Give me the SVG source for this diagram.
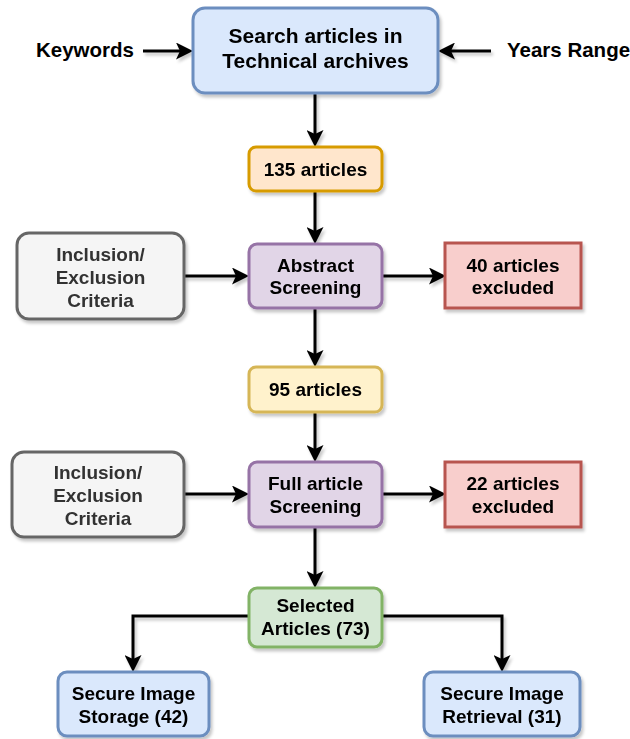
<svg xmlns="http://www.w3.org/2000/svg" width="630" height="739" viewBox="0 0 630 739">
<style>
text{font-family:"Liberation Sans",Arial,Helvetica,sans-serif;font-weight:bold;fill:#000;}
.t{font-size:19px;text-anchor:middle;}
.g{fill:#333333;}
.box{stroke-width:3;}
.blue{fill:#dae8fc;stroke:#6c8ebf;}
.orange{fill:#ffe6cc;stroke:#d79b00;}
.purple{fill:#e1d5e7;stroke:#9673a6;}
.gray{fill:#f5f5f5;stroke:#666666;}
.red{fill:#f8cecc;stroke:#b85450;}
.yellow{fill:#fff2cc;stroke:#d6b656;}
.green{fill:#d5e8d4;stroke:#82b366;}
.c{fill:none;stroke:#000;stroke-width:3;marker-end:url(#arr);}
</style>
<defs>
<marker id="arr" viewBox="0 0 17 17" refX="9" refY="8.5" markerWidth="17" markerHeight="17" markerUnits="userSpaceOnUse" orient="auto">
<path d="M0,0 L17,8.5 L0,17 L4,8.5 Z" fill="#000"/>
</marker>
<filter id="sh" x="-10%" y="-10%" width="130%" height="140%">
<feDropShadow dx="2" dy="3" stdDeviation="1.5" flood-color="#000" flood-opacity="0.22"/>
</filter>
</defs>

<g id="connectors" filter="url(#sh)">
<path class="c" d="M143,51 H185"/>
<path class="c" d="M491,51 H446"/>
<path class="c" d="M315,93 V139"/>
<path class="c" d="M315,191 V236"/>
<path class="c" d="M184,276 H241"/>
<path class="c" d="M382,276 H438"/>
<path class="c" d="M315,308 V359"/>
<path class="c" d="M315,412 V454"/>
<path class="c" d="M184,494 H241"/>
<path class="c" d="M382,494 H438"/>
<path class="c" d="M315,527 V580"/>
<path class="c" d="M249,616 H133 V664"/>
<path class="c" d="M382,616 H502 V664"/>
</g>

<g id="keywords">
<text x="36" y="57" style="font-size:20.5px">Keywords</text>
</g>
<g id="years-range">
<text x="507" y="57" style="font-size:20.5px">Years Range</text>
</g>

<g id="search" filter="url(#sh)">
<rect class="box blue" x="193" y="8" width="245" height="85" rx="12"/>
<text class="t" x="315.5" y="43" style="font-size:21px">Search articles in</text>
<text class="t" x="315.5" y="68" style="font-size:21px">Technical archives</text>
</g>

<g id="articles-135" filter="url(#sh)">
<rect class="box orange" x="249" y="147" width="133" height="44" rx="7"/>
<text class="t" x="315.5" y="176">135 articles</text>
</g>

<g id="inclusion-1" filter="url(#sh)">
<rect class="box gray" x="17" y="233" width="167" height="86" rx="12"/>
<text class="t g" x="100.5" y="261">Inclusion/</text>
<text class="t g" x="100.5" y="284">Exclusion</text>
<text class="t g" x="100.5" y="307">Criteria</text>
</g>

<g id="abstract-screening" filter="url(#sh)">
<rect class="box purple" x="249" y="244" width="133" height="64" rx="8"/>
<text class="t" x="315.5" y="272">Abstract</text>
<text class="t" x="315.5" y="294">Screening</text>
</g>

<g id="excluded-40" filter="url(#sh)">
<rect class="box red" x="445" y="243" width="136" height="65"/>
<text class="t" x="513" y="272">40 articles</text>
<text class="t" x="513" y="294">excluded</text>
</g>

<g id="articles-95" filter="url(#sh)">
<rect class="box yellow" x="249" y="367" width="133" height="45" rx="7"/>
<text class="t" x="315.5" y="396">95 articles</text>
</g>

<g id="inclusion-2" filter="url(#sh)">
<rect class="box gray" x="12" y="452" width="172" height="85" rx="12"/>
<text class="t g" x="98" y="479">Inclusion/</text>
<text class="t g" x="98" y="502">Exclusion</text>
<text class="t g" x="98" y="525">Criteria</text>
</g>

<g id="full-screening" filter="url(#sh)">
<rect class="box purple" x="249" y="462" width="133" height="65" rx="8"/>
<text class="t" x="315.5" y="490">Full article</text>
<text class="t" x="315.5" y="513">Screening</text>
</g>

<g id="excluded-22" filter="url(#sh)">
<rect class="box red" x="445" y="462" width="136" height="65"/>
<text class="t" x="513" y="490">22 articles</text>
<text class="t" x="513" y="513">excluded</text>
</g>

<g id="selected" filter="url(#sh)">
<rect class="box green" x="249" y="588" width="133" height="59" rx="8"/>
<text class="t" x="315.5" y="612">Selected</text>
<text class="t" x="315.5" y="635">Articles (73)</text>
</g>

<g id="storage" filter="url(#sh)">
<rect class="box blue" x="58" y="672" width="151" height="64" rx="9"/>
<text class="t" x="133.5" y="700">Secure Image</text>
<text class="t" x="133.5" y="723">Storage (42)</text>
</g>

<g id="retrieval" filter="url(#sh)">
<rect class="box blue" x="424" y="672" width="156" height="64" rx="9"/>
<text class="t" x="502" y="700">Secure Image</text>
<text class="t" x="502" y="723">Retrieval (31)</text>
</g>
</svg>
